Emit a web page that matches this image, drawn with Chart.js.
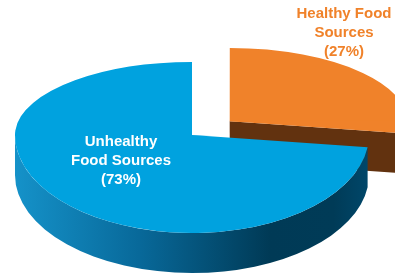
<!DOCTYPE html>
<html><head><meta charset="utf-8">
<script src="https://cdn.jsdelivr.net/npm/chart.js@4/dist/chart.umd.min.js"></script>
<style>html,body{margin:0;padding:0;background:#fff;overflow:hidden}</style>
</head><body>
<canvas id="c" width="395" height="276"></canvas>
<script>
// ---- data ----
const categories = ['Healthy Food Sources', 'Unhealthy Food Sources'];
const labelLines = [['Healthy Food', 'Sources'], ['Unhealthy', 'Food Sources']];
const values = [27, 73];

// ---- styles / layout ----
const topColors = ['#f0822a', '#00a2df'];
const labelColors = ['#f0822a', '#ffffff'];
const labelAnchors = [{x: 344, y: 14}, {x: 121, y: 142}];
const lineGap = 19;
// projected view: back half squeezed more than front half (perspective look)
const view = {cx: 192, cy: 135, rx: 177, ryTop: 73, ryBot: 98, depth: 40};

function sideFill(i, ctx, ox, R) {
  if (i === 0) return '#62320f';
  const g = ctx.createLinearGradient(ox - R, 0, ox + R, 0);
  g.addColorStop(0, '#1592c9');
  g.addColorStop(0.35, '#08699a');
  g.addColorStop(0.72, '#003a56');
  g.addColorStop(0.9, '#003b57');
  g.addColorStop(1, '#00476a');
  return g;
}

function visibleRanges(s, e) {
  const out = [];
  for (let k = -2; k <= 2; k++) {
    const a = Math.max(s, 2 * Math.PI * k), b = Math.min(e, 2 * Math.PI * k + Math.PI);
    if (b > a) out.push([a, b]);
  }
  return out;
}

const pie3d = {
  id: 'pie3d',
  beforeDatasetsDraw(chart) {
    const ctx = chart.ctx;
    const arcs = chart.getDatasetMeta(0).data;
    const a0 = arcs[0];
    const R = a0.outerRadius;
    const sx = view.rx / R, syT = view.ryTop / R, syB = view.ryBot / R;
    const W = chart.width, H = chart.height;
    const geo = arcs.map(arc => {
      const o = (arc.options.offset || 0) / 4;
      const half = (arc.startAngle + arc.endAngle) / 2;
      const ox = arc.x + Math.cos(half) * o, oy = arc.y + Math.sin(half) * o;
      const dy = oy - a0.y;
      return {ox, oy, Cx: view.cx + sx * (ox - a0.x), Cy: view.cy + (dy < 0 ? syT : syB) * dy};
    });
    const D = view.depth / syB;
    // side walls (front half only)
    arcs.forEach((arc, i) => {
      const g = geo[i];
      ctx.save();
      ctx.translate(g.Cx, g.Cy); ctx.scale(sx, syB); ctx.translate(-g.ox, -g.oy);
      const r = arc.outerRadius;
      ctx.fillStyle = sideFill(i, ctx, g.ox, r);
      const faces = [];
      if (Math.cos(arc.startAngle) < -1e-6) faces.push(arc.startAngle);
      if (Math.cos(arc.endAngle) > 1e-6) faces.push(arc.endAngle);
      faces.forEach(t => {
        const px = g.ox + r * Math.cos(t), py = g.oy + r * Math.sin(t);
        ctx.beginPath();
        ctx.moveTo(g.ox, g.oy); ctx.lineTo(px, py); ctx.lineTo(px, py + D); ctx.lineTo(g.ox, g.oy + D);
        ctx.closePath(); ctx.fill();
      });
      visibleRanges(arc.startAngle, arc.endAngle).forEach(([a, b]) => {
        ctx.beginPath();
        ctx.arc(g.ox, g.oy, r, a, b, false);
        ctx.arc(g.ox, g.oy + D, r, b, a, true);
        ctx.closePath(); ctx.fill();
      });
      ctx.restore();
    });
    // top faces: back half and front half with their own vertical scale
    arcs.forEach((arc, i) => {
      const g = geo[i];
      [[syT, 0, g.Cy + 0.5], [syB, g.Cy - 0.5, H]].forEach(([sy, y0, y1]) => {
        ctx.save();
        ctx.beginPath(); ctx.rect(0, y0, W, y1 - y0); ctx.clip();
        ctx.translate(g.Cx, g.Cy); ctx.scale(sx, sy); ctx.translate(-g.ox, -g.oy);
        arc.draw(ctx);
        ctx.restore();
      });
    });
    // labels
    ctx.save();
    ctx.font = 'bold 15px "Liberation Sans", Arial, sans-serif';
    ctx.textAlign = 'center';
    ctx.textBaseline = 'middle';
    values.forEach((v, i) => {
      const lines = labelLines[i].concat(['(' + v + '%)']);
      ctx.fillStyle = labelColors[i];
      lines.forEach((t, j) => ctx.fillText(t, labelAnchors[i].x, labelAnchors[i].y + j * lineGap));
    });
    ctx.restore();
    return false;
  }
};

new Chart(document.getElementById('c'), {
  type: 'pie',
  data: {
    labels: categories,
    datasets: [{
      data: values,
      backgroundColor: topColors,
      borderWidth: 0,
      offset: [100, 0],
      hoverOffset: 0,
      clip: false
    }]
  },
  options: {
    responsive: false,
    animation: false,
    events: [],
    rotation: 0,
    layout: {padding: 0},
    plugins: {legend: {display: false}, tooltip: {enabled: false}}
  },
  plugins: [pie3d]
});
</script>
</body></html>
